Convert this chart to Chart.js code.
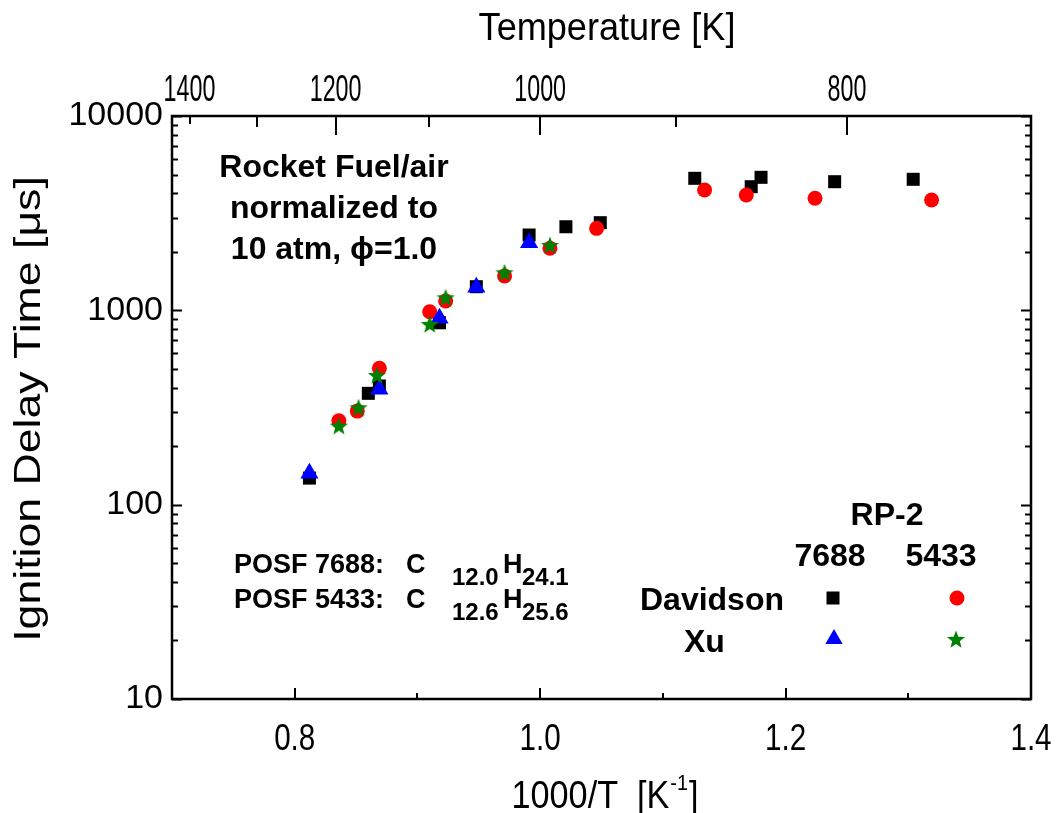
<!DOCTYPE html>
<html><head><meta charset="utf-8">
<script src="https://cdn.jsdelivr.net/npm/chart.js@4/dist/chart.umd.min.js"></script>
<style>html,body{margin:0;padding:0;background:#fff}#wrap{width:1060px;height:813px}</style>
</head><body><div id="wrap"><canvas id="c" width="1060" height="813"></canvas></div>
<script>
// ---- data (x = 1000/T [1/K], y = ignition delay [us]) ----
const davidson7688X = [0.812,0.860,0.869,0.918,0.948,0.991,1.021,1.049,1.126,1.172,1.180,1.240,1.304];
const davidson7688Y = [137,374,408,863,1323,2441,2692,2825,4779,4327,4836,4591,4723];
const davidson5433X = [0.836,0.851,0.869,0.910,0.923,0.971,1.008,1.046,1.134,1.168,1.224,1.319];
const davidson5433Y = [270,303,503,983,1116,1502,2085,2642,4161,3922,3771,3697];
const xu7688X = [0.812,0.869,0.918,0.948,0.991];
const xu7688Y = [145,392,910,1313,2228];
const xu5433X = [0.836,0.852,0.867,0.910,0.923,0.971,1.008];
const xu5433Y = [252,313,459,840,1153,1550,2143];

// ---- tick definitions ----
const xMajorTicks = [0.8,1.0,1.2,1.4];
const xMinorTicks = [0.9,1.1,1.3];
const yMajorTicks = [10,100,1000,10000];
const yMinorTicks = [20,30,40,50,60,70,80,90,200,300,400,500,600,700,800,900,2000,3000,4000,5000,6000,7000,8000,9000];
const tempLabelTicks = [1400,1200,1000,800];
const tempMinorTicks = [1300,1100,900];
const tempLongTicks = [1200,1000,800];

const pts = (xs, ys) => xs.map((x,i)=>({x:x, y:ys[i]}));

// star marker image
function makeStar(size, color){
  const c = document.createElement('canvas'); c.width = size; c.height = size;
  const g = c.getContext('2d'); const cx=size/2, cy=size/2, R=size/2-0.5, r=R*0.42;
  g.beginPath();
  for(let i=0;i<10;i++){ const a=-Math.PI/2+i*Math.PI/5; const rr=i%2?r:R; g.lineTo(cx+rr*Math.cos(a), cy+rr*Math.sin(a)); }
  g.closePath(); g.fillStyle=color; g.fill();
  return c;
}
const starImg = makeStar(20,'#008000');
const FONT = '"Liberation Sans", Arial, sans-serif';

function scaledText(ctx, txt, x, y, sx){
  ctx.save(); ctx.translate(x,y); ctx.scale(sx,1); ctx.fillText(txt,0,0); ctx.restore();
}

const drawPlugin = {
  id:'drawPlugin',
  afterDraw(chart){
    const ctx = chart.ctx; const {left,right,top,bottom} = chart.chartArea;
    const sx = chart.scales.x, sy = chart.scales.y, st = chart.scales.x2;
    ctx.save();
    ctx.strokeStyle='#000'; ctx.lineWidth=2;
    // y ticks (left + right mirrored)
    const yT = yMajorTicks.map(v=>[v,10]).concat(yMinorTicks.map(v=>[v,6]));
    ctx.beginPath();
    yT.forEach(([v,l])=>{ const p=Math.round(sy.getPixelForValue(v))+0.5; ctx.moveTo(left,p); ctx.lineTo(left+l,p); ctx.moveTo(right,p); ctx.lineTo(right-l,p); });
    // bottom ticks
    const xT = xMajorTicks.map(v=>[v,11]).concat(xMinorTicks.map(v=>[v,6]));
    xT.forEach(([v,l])=>{ const p=Math.round(sx.getPixelForValue(v)); ctx.moveTo(p,bottom); ctx.lineTo(p,bottom-l); });
    // top ticks (temperature)
    const tT = tempLabelTicks.concat(tempMinorTicks);
    tT.forEach(T=>{ const p=Math.round(st.getPixelForValue(1000/T)); const l = tempLongTicks.includes(T)?19:(tempMinorTicks.includes(T)?11:8); ctx.moveTo(p,top); ctx.lineTo(p,top+l); });
    ctx.stroke();
    // frame
    ctx.lineWidth=2.5; ctx.strokeRect(left,top,right-left,bottom-top);

    ctx.fillStyle='#000';
    // y tick labels
    ctx.font='34px '+FONT; ctx.textAlign='right'; ctx.textBaseline='middle';
    yMajorTicks.forEach(v=>ctx.fillText(String(v), left-9, sy.getPixelForValue(v)));
    // bottom tick labels
    ctx.font='37px '+FONT; ctx.textAlign='center'; ctx.textBaseline='alphabetic';
    xMajorTicks.forEach(v=>scaledText(ctx, v.toFixed(1), sx.getPixelForValue(v), 750, 0.8));
    // top tick labels
    ctx.font='37px '+FONT;
    tempLabelTicks.forEach(T=>scaledText(ctx, String(T), st.getPixelForValue(1000/T), 101, 0.63));
    // axis titles
    ctx.font='38px '+FONT;
    scaledText(ctx,'Temperature [K]', 607, 40, 0.95);
    // x title with superscript
    const a='1000/T  [K', s='-1', b=']', k=0.9;
    ctx.font='38px '+FONT; const wa=ctx.measureText(a).width*k, wb=ctx.measureText(b).width*k;
    ctx.font='22px '+FONT; const ws=ctx.measureText(s).width*k;
    let x0 = 604 - (wa+ws+wb)/2; ctx.textAlign='left';
    ctx.font='38px '+FONT; scaledText(ctx,a,x0,808,k);
    ctx.font='22px '+FONT; scaledText(ctx,s,x0+wa+1,790,k);
    ctx.font='38px '+FONT; scaledText(ctx,b,x0+wa+ws+2,808,k);
    // y title
    ctx.save(); ctx.translate(40,409); ctx.rotate(-Math.PI/2); ctx.scale(1.24,1); ctx.textAlign='center';
    ctx.font='36px '+FONT; ctx.fillText('Ignition Delay Time [\u03bcs]',0,0); ctx.restore();

    // annotation block
    ctx.font='bold 32px '+FONT; ctx.textAlign='center';
    ctx.fillText('Rocket Fuel/air',334,177);
    ctx.fillText('normalized to',334,218);
    ctx.fillText('10 atm, \u03d5=1.0',334,259);
    // POSF lines
    ctx.textAlign='left';
    const posf = [['POSF 7688:','12.0','24.1',573],['POSF 5433:','12.6','25.6',608]];
    posf.forEach(([lab,c,h,yb])=>{
      ctx.font='bold 27px '+FONT; ctx.fillText(lab,234,yb); ctx.fillText('C',406,yb); ctx.fillText('H',503,yb);
      ctx.font='bold 24px '+FONT; ctx.fillText(c,452,yb+12); ctx.fillText(h,522,yb+12);
    });
    // legend block
    ctx.font='bold 32px '+FONT; ctx.textAlign='center';
    ctx.fillText('RP-2',887,525); ctx.fillText('7688',830,566); ctx.fillText('5433',941,566);
    ctx.textAlign='right'; ctx.fillText('Davidson',784,610);
    ctx.textAlign='left'; ctx.fillText('Xu',684,652);
    // legend markers
    ctx.fillStyle='#000'; ctx.fillRect(833-6.5,598-6.5,13,13);
    ctx.fillStyle='#ff0000'; ctx.beginPath(); ctx.arc(957,598,7.5,0,Math.PI*2); ctx.fill();
    ctx.fillStyle='#0000ff'; ctx.beginPath(); const r=10, tx=834, ty=639;
    ctx.moveTo(tx,ty-r); ctx.lineTo(tx+Math.sin(2*Math.PI/3)*r, ty+0.5*r); ctx.lineTo(tx-Math.sin(2*Math.PI/3)*r, ty+0.5*r); ctx.closePath(); ctx.fill();
    ctx.drawImage(starImg,956-10,640-10);
    ctx.restore();
  }
};

new Chart(document.getElementById('c'), {
  type:'scatter',
  data:{ datasets:[
    {label:'Davidson 7688', data:pts(davidson7688X,davidson7688Y), pointStyle:'rect', pointRadius:9.2, backgroundColor:'#000', borderColor:'#000', borderWidth:0, order:4},
    {label:'Davidson 5433', data:pts(davidson5433X,davidson5433Y), pointStyle:'circle', pointRadius:7.5, backgroundColor:'#ff0000', borderColor:'#ff0000', borderWidth:0, order:3},
    {label:'Xu 7688', data:pts(xu7688X,xu7688Y), pointStyle:'triangle', pointRadius:10.5, backgroundColor:'#0000ff', borderColor:'#0000ff', borderWidth:0, order:2},
    {label:'Xu 5433', data:pts(xu5433X,xu5433Y), pointStyle:starImg, pointRadius:10, backgroundColor:'#008000', borderColor:'#008000', borderWidth:0, order:1}
  ]},
  options:{
    responsive:false, animation:false, devicePixelRatio:1, events:[],
    layout:{padding:{left:0,right:29,top:0,bottom:0}},
    plugins:{legend:{display:false}, tooltip:{enabled:false}},
    scales:{
      x:{type:'linear', position:'bottom', min:0.7, max:1.4,
         grid:{display:false, drawTicks:false}, border:{display:false}, ticks:{display:false},
         afterBuildTicks(s){ s.ticks = xMajorTicks.concat(xMinorTicks).map(v=>({value:v})); },
         afterFit(s){ s.height = 114; } },
      x2:{type:'linear', position:'top', min:0.7, max:1.4,
         grid:{display:false, drawTicks:false}, border:{display:false}, ticks:{display:false},
         afterBuildTicks(s){ s.ticks = tempLabelTicks.concat(tempMinorTicks).map(T=>({value:1000/T})); },
         afterFit(s){ s.height = 116; } },
      y:{type:'logarithmic', position:'left', min:10, max:10000,
         grid:{display:false, drawTicks:false}, border:{display:false}, ticks:{display:false},
         afterBuildTicks(s){ s.ticks = yMajorTicks.concat(yMinorTicks).map(v=>({value:v})); },
         afterFit(s){ s.width = 172; } }
    }
  },
  plugins:[drawPlugin]
});
</script></body></html>
